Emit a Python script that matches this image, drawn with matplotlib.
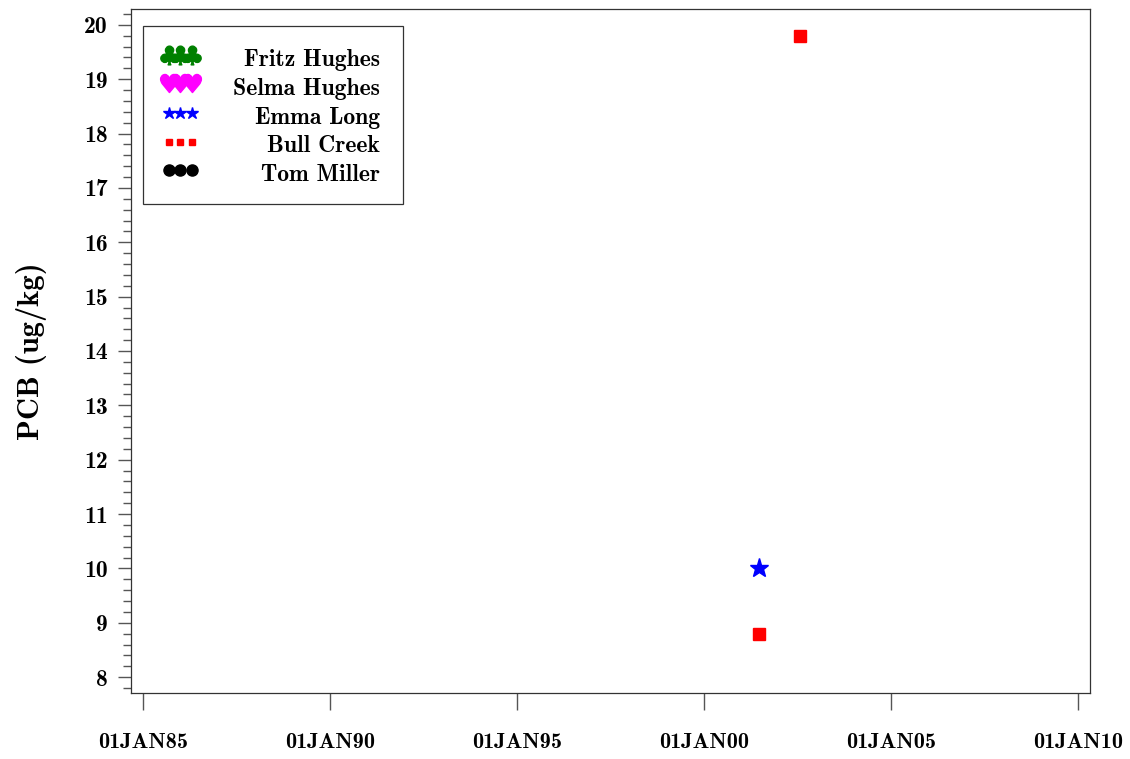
import datetime as dt

import matplotlib
matplotlib.use("Agg")
import matplotlib.dates as mdates
import matplotlib.pyplot as plt
from matplotlib.patches import Rectangle
from matplotlib.ticker import MultipleLocator, FuncFormatter

# --- data -------------------------------------------------------------
sites = ["Fritz Hughes", "Selma Hughes", "Emma Long", "Bull Creek", "Tom Miller"]
colors = ["#008000", "#ff00ff", "#0000ff", "#ff0000", "#000000"]

emma_dates = [dt.date(2001, 6, 20)]
emma_pcb = [10.0]

bull_dates = [dt.date(2001, 6, 20), dt.date(2002, 7, 25)]
bull_pcb = [8.8, 19.8]

tick_years = [1985, 1990, 1995, 2000, 2005, 2010]

plt.rcParams["font.family"] = ["cmb10", "DejaVu Serif"]
plt.rcParams["axes.unicode_minus"] = False

fig = plt.figure(figsize=(11.3, 7.59), dpi=100)
ax = fig.add_axes([131 / 1130, 1 - 693 / 759, 959 / 1130, 684 / 759])

ax.plot(emma_dates, emma_pcb, ls="none", marker="*", ms=14, color=colors[2])
ax.plot(bull_dates, bull_pcb, ls="none", marker="s", ms=8.5, color=colors[3])

ax.set_xlim(dt.date(1985, 1, 1) - dt.timedelta(days=117),
            dt.date(2010, 1, 1) + dt.timedelta(days=117))
ax.set_ylim(7.71, 20.29)

ax.set_xticks([dt.date(y, 1, 1) for y in tick_years])
ax.xaxis.set_major_formatter(
    FuncFormatter(lambda v, p: mdates.num2date(v).strftime("%d%b%y").upper()))
ax.yaxis.set_major_locator(MultipleLocator(1))
ax.yaxis.set_minor_locator(MultipleLocator(0.2))

ax.tick_params(axis="x", length=12, width=1, color="#555555",
               pad=17, labelsize=16)
ax.tick_params(axis="y", which="major", length=9.5, width=1, color="#555555",
               pad=7, labelsize=17)
ax.tick_params(axis="y", which="minor", length=5.5, width=1, color="#555555")
for sp in ax.spines.values():
    sp.set_color("#333333")
    sp.set_linewidth(0.9)

ax.set_ylabel("PCB (ug/kg)", fontsize=22)
ax.yaxis.set_label_coords(-0.088, 0.5)

# --- legend, drawn by hand so the labels are right aligned -------------
ax.add_patch(Rectangle((0.0125, 0.7149), 0.2711, 0.2602, transform=ax.transAxes,
                       fill=False, edgecolor="#333333", lw=0.9))
mark_y = [0.9327, 0.8918, 0.8480, 0.8056, 0.7646]
text_y = [0.9167, 0.8743, 0.8319, 0.7909, 0.7485]
mark_x = [0.0396, 0.0516, 0.0636]
legend_markers = ["$♣$", "$♥$", "*", "s", "o"]
legend_sizes = [13.5, 13, 9, 4.5, 8]
for name, col, mk, sz, my, ty in zip(sites, colors, legend_markers, legend_sizes,
                                     mark_y, text_y):
    ax.plot(mark_x, [my] * 3, ls="none", marker=mk, ms=sz, color=col,
            transform=ax.transAxes, clip_on=False)
    ax.text(0.2596, ty, name, transform=ax.transAxes, ha="right", va="baseline",
            fontsize=17)

fig.savefig("out.png", dpi=100)
